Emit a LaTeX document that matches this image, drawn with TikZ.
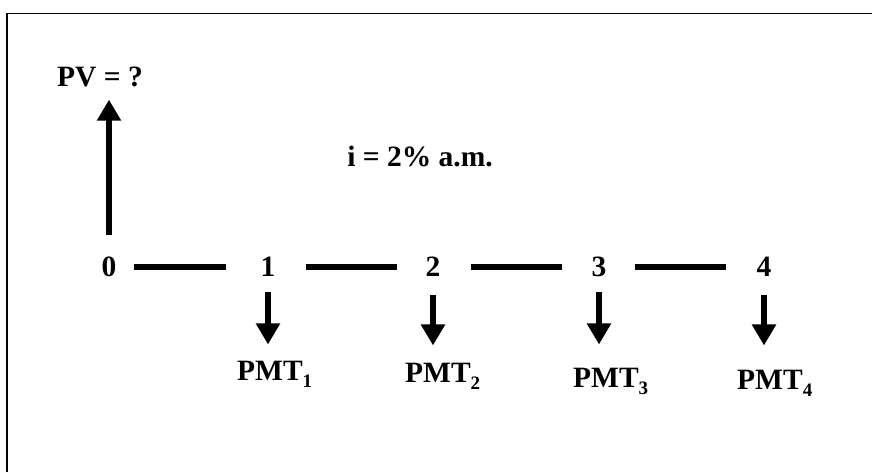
\documentclass[tikz,border=0pt]{standalone}
\usepackage{fontspec}
\setmainfont{Liberation Serif}
\usetikzlibrary{arrows.meta}
\newcommand{\sbs}[1]{\raisebox{-0.26em}{\fontsize{19}{19}\selectfont #1}}
\tikzset{
  lbl/.style={font=\fontsize{29.5}{29.5}\selectfont\bfseries, inner sep=0pt},
  seg/.style={line width=6.5pt},
  flow/.style={line width=6.5pt, -{Triangle[width=23pt,length=21pt]}},
  frame/.style={line width=1.6pt}
}
\begin{document}
\begin{tikzpicture}[x=1pt,y=-1pt]
\useasboundingbox (0,0) rectangle (872,472);
\draw[frame] (7,472) -- (7,13.5) -- (872,13.5);
% timeline labels
\node[lbl] (t0) at (109,267) {0};
\node[lbl] (t1) at (268,267) {1};
\node[lbl] (t2) at (433,267) {2};
\node[lbl] (t3) at (599,267) {3};
\node[lbl] (t4) at (764,267) {4};
\draw[seg, shorten <=17pt, shorten >=34pt] (t0) -- (t1);
\draw[seg, shorten <=30pt, shorten >=28pt] (t1) -- (t2);
\draw[seg, shorten <=30pt, shorten >=29pt] (t2) -- (t3);
\draw[seg, shorten <=28pt, shorten >=30pt] (t3) -- (t4);
% PV
\node[lbl, anchor=base] (pv) at (100,86) {PV = ?};
\draw[flow, shorten <=22pt, shorten >=13pt] (t0.north) -- (t0.north |- pv.south);
% rate
\node[lbl, anchor=base] (rate) at (420,166) {i = 2\% a.m.};
% payments
\node[lbl, anchor=base west] (p1) at (237,380) {PMT\sbs{1}};
\node[lbl, anchor=base west] (p2) at (405,382) {PMT\sbs{2}};
\node[lbl, anchor=base west] (p3) at (573,387) {PMT\sbs{3}};
\node[lbl, anchor=base west] (p4) at (737,389) {PMT\sbs{4}};
\draw[flow, shorten <=15pt, shorten >=16pt] (t1.south) -- (t1.south |- p1.north);
\draw[flow, shorten <=18pt, shorten >=17pt] (t2.south) -- (t2.south |- p2.north);
\draw[flow, shorten <=15pt, shorten >=23pt] (t3.south) -- (t3.south |- p3.north);
\draw[flow, shorten <=18pt, shorten >=24pt] (t4.south) -- (t4.south |- p4.north);
\end{tikzpicture}
\end{document}
